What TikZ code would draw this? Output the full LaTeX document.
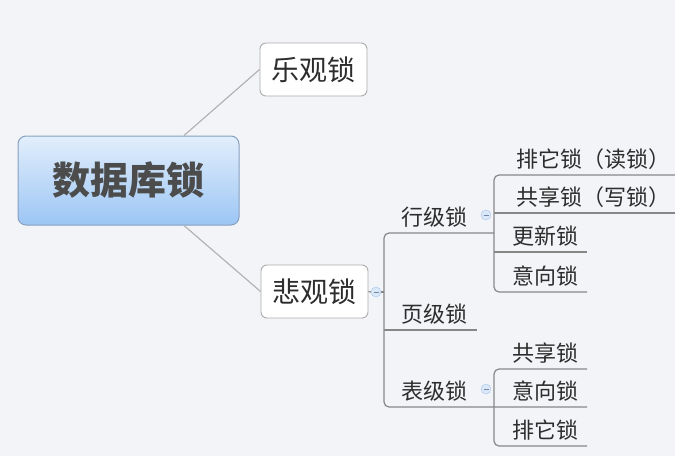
\documentclass[tikz,border=0pt]{standalone}
\usepackage{fontspec}
\newfontfamily\cjk{Noto Sans CJK SC}
\usetikzlibrary{positioning,calc}
\definecolor{bgGray}   {RGB}{243,244,248}
\definecolor{lineGray} {RGB}{135,135,135}
\definecolor{linkGray} {RGB}{175,175,175}
\definecolor{rootTop}  {RGB}{226,238,252}
\definecolor{rootBot}  {RGB}{156,198,244}
\definecolor{rootEdge} {RGB}{135,160,192}
\definecolor{foldFill} {RGB}{218,231,248}
\definecolor{foldEdge} {RGB}{168,196,232}
\definecolor{textGray} {RGB}{45,45,45}

\tikzset{
  rootbox/.style={draw=rootEdge,rounded corners=8pt,line width=1pt,
    top color=rootTop,bottom color=rootBot,
    minimum width=221pt,minimum height=89pt,
    font=\cjk\bfseries\fontsize{38}{40}\selectfont,text=textGray!85},
  topicbox/.style={draw=gray!65,fill=white,rounded corners=6pt,line width=0.9pt,
    minimum width=107pt,minimum height=53pt,
    font=\cjk\fontsize{28}{30}\selectfont,text=textGray},
  subtopic/.style={anchor=south west,inner xsep=0pt,inner ysep=5.5pt,
    font=\cjk\fontsize{22}{24}\selectfont,text=textGray},
  fold/.style={circle,draw=foldEdge,fill=foldFill,minimum size=10pt,inner sep=0pt,
    path picture={\draw[foldEdge!70!black,line width=0.6pt]
      ([xshift=-2.5pt]path picture bounding box.center) --
      ([xshift=2.5pt]path picture bounding box.center);}},
  link/.style={draw=linkGray,line width=1.1pt},
  branch/.style={draw=lineGray,line width=1.2pt,rounded corners=5pt},
}

\begin{document}
\begin{tikzpicture}[x=1pt,y=-1pt]
  % Hintergrund
  \fill[bgGray] (0,0) rectangle (675,456);
  \useasboundingbox (0,0) rectangle (675,456);

  % Hauptthemen
  \node[rootbox]  (root) at (128.5,180.5) {数据库锁};
  \node[topicbox] (opt)  at (313.5,69.5)  {乐观锁};
  \node[topicbox] (pes)  at (314.5,291.5) {悲观锁};
  \draw[link] ($(root.north)!0.5!(root.north east)$) -- (opt.west);
  \draw[link] ($(root.south)!0.5!(root.south east)$) -- (pes.west);

  % Schienen
  \coordinate (trunk)   at (384,0);
  \coordinate (rail)    at (494,0);
  \coordinate (pageend) at (477,0);
  \coordinate (nearend) at (587,0);
  \coordinate (farend)  at (675,0);

  % Unterthemen
  \node[subtopic] (row)  at (401,233) {行级锁};
  \node[subtopic] (page) at (401,330) {页级锁};
  \node[subtopic] (tab)  at (401,407) {表级锁};

  \node[subtopic] (rowx) at (516,175) {排它锁（读锁）};
  \node[subtopic] (rows) at (516,213) {共享锁（写锁）};
  \node[subtopic] (rowu) at (512,252) {更新锁};
  \node[subtopic] (rowi) at (512,292) {意向锁};

  \node[subtopic] (tabs) at (512,369) {共享锁};
  \node[subtopic] (tabi) at (512,407) {意向锁};
  \node[subtopic] (tabx) at (512,446) {排它锁};

  % Einklapp-Knoepfe
  \node[fold] (pesfold) at (376,292) {};
  \node[fold] (rowfold) at (486,215) {};
  \node[fold] (tabfold) at (486,389) {};

  % Stamm
  \draw[branch] (pes.east) -- (pesfold.west);
  \draw[branch] (pesfold.east) -- (pesfold -| trunk);
  \draw[branch] (row.south -| rail) -- (row.south -| trunk)
    -- (tab.south -| trunk) -- (tabi.south -| nearend);
  \draw[branch] (page.south -| trunk) -- (page.south -| pageend);

  % Zeilenebene
  \draw[branch] (rowx.south -| farend) -- (rowx.south -| rail)
    -- (rowi.south -| rail) -- (rowi.south -| nearend);
  \draw[branch] (rows.south -| rail) -- (rows.south -| farend);
  \draw[branch] (rowu.south -| rail) -- (rowu.south -| nearend);

  % Tabellenebene
  \draw[branch] (tabs.south -| nearend) -- (tabs.south -| rail)
    -- (tabx.south -| rail) -- (tabx.south -| nearend);
\end{tikzpicture}
\end{document}
